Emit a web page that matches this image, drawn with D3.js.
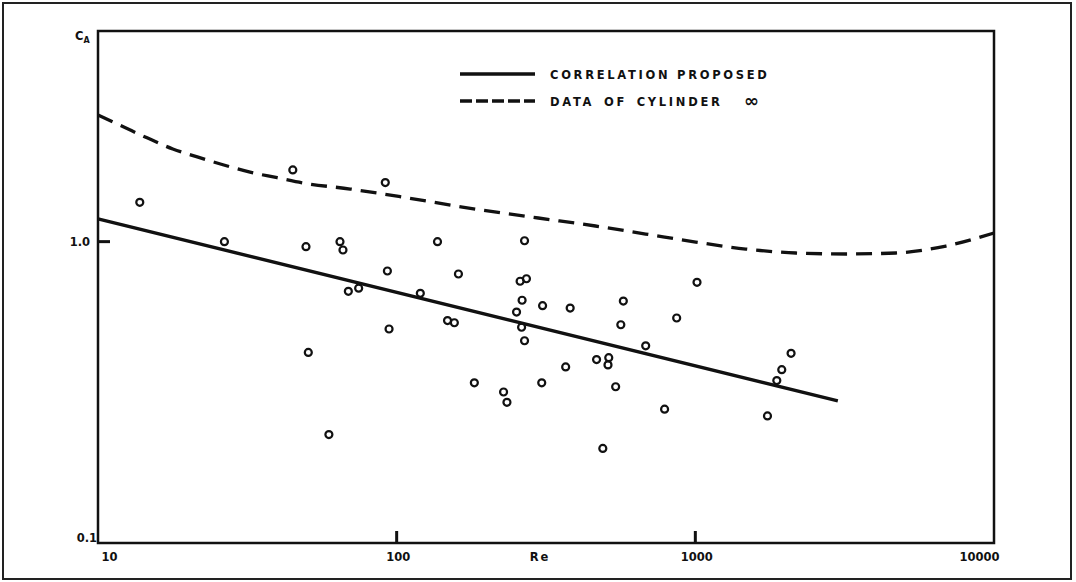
<!DOCTYPE html>
<html>
<head>
<meta charset="utf-8">
<script src="https://cdn.jsdelivr.net/npm/d3@7"></script>
<style>
  body { margin: 0; background: #fff; }
  svg text { font-family: "DejaVu Sans", sans-serif; font-weight: bold; fill: #111; }
</style>
</head>
<body>
<svg id="chart" width="1076" height="582"></svg>
<script>
// measured points: Reynolds number and C_A
const pointRe = [13.8, 44.9, 91.6, 26.5, 49.7, 64.6, 66.1, 93.1, 68.9, 74.6, 94.3, 50.6, 59.3,
  137, 268, 161, 259, 272, 1013, 120, 263, 308, 381, 574, 252, 148, 156, 262, 563, 866,
  268, 682, 467, 513, 510, 368, 182, 306, 228, 234, 541, 789, 490,
  2092, 1947, 1874, 1744]
const pointCA = [1.35, 1.73, 1.57, 1.0, 0.962, 1.0, 0.938, 0.799, 0.684, 0.701, 0.513, 0.429, 0.229,
  1.0, 1.007, 0.781, 0.739, 0.753, 0.733, 0.674, 0.639, 0.613, 0.602, 0.635, 0.584, 0.547, 0.538, 0.520, 0.530, 0.558,
  0.469, 0.451, 0.406, 0.412, 0.390, 0.384, 0.340, 0.340, 0.317, 0.293, 0.330, 0.278, 0.206,
  0.426, 0.376, 0.346, 0.264]

// correlation proposed (straight line on log-log)
const corrRe = [10, 3000]
const corrCA = [1.19, 0.296]

// data of cylinder (dashed curve)
const cylRe = [10, 12.2, 14.6, 17.8, 21.5, 26.2, 32.3, 39.8, 48.7, 69.9, 104.5, 166, 298, 463, 682, 1003, 1475, 2170, 3190, 4694, 6905, 10000]
const cylCA = [2.63, 2.40, 2.21, 2.03, 1.91, 1.80, 1.70, 1.63, 1.565, 1.495, 1.406, 1.302, 1.198, 1.127, 1.06, 0.997, 0.945, 0.917, 0.910, 0.917, 0.967, 1.068]

const xTicks = [10, 100, 1000, 10000]
const yTicks = [0.1, 1.0]

const svg = d3.select('#chart')
const plotLeft = 98, plotRight = 994, plotTop = 31, plotBottom = 543

const x = d3.scaleLog().domain([10, 10000]).range([plotLeft, plotRight])
const y = d3.scaleLog().domain([0.1, 5]).range([plotBottom, plotTop])

// outer frame of the figure
svg.append('rect')
  .attr('x', 3).attr('y', 3)
  .attr('width', 1068).attr('height', 576)
  .attr('fill', 'none').attr('stroke', '#222').attr('stroke-width', 2)

// plot box
svg.append('rect')
  .attr('x', plotLeft).attr('y', plotTop)
  .attr('width', plotRight - plotLeft).attr('height', plotBottom - plotTop)
  .attr('fill', 'none').attr('stroke', '#111').attr('stroke-width', 2.5)

// x axis labels
const xAxis = svg.append('g')
  .attr('transform', `translate(0,${plotBottom})`)
  .call(d3.axisBottom(x).tickValues(xTicks).tickSize(0).tickPadding(10).tickFormat(d3.format('d')))
xAxis.select('.domain').remove()
xAxis.selectAll('text').attr('font-size', 11.5)
  .attr('text-anchor', (d, i) => i === 0 ? 'start' : i === xTicks.length - 1 ? 'end' : 'middle')
  .attr('dx', (d, i) => i === 0 ? 3 : i === xTicks.length - 1 ? 5 : 1)

// inner tick marks on x
svg.selectAll('line.xtick')
  .data(xTicks.slice(1, -1))
  .enter()
  .append('line')
  .attr('class', 'xtick')
  .attr('x1', d => x(d)).attr('x2', d => x(d))
  .attr('y1', plotBottom).attr('y2', plotBottom - 12)
  .attr('stroke', '#111').attr('stroke-width', 3)

// y axis labels
const yAxis = svg.append('g')
  .attr('transform', `translate(${plotLeft},0)`)
  .call(d3.axisLeft(y).tickValues(yTicks).tickSize(0).tickPadding(8).tickFormat(d3.format('.1f')))
yAxis.select('.domain').remove()
yAxis.selectAll('text').attr('font-size', 11.5)
  .attr('dy', d => d === 0.1 ? '-0.1em' : '0.35em')
  .attr('x', d => d === 0.1 ? -1 : -8)

// inner tick mark on y
svg.selectAll('line.ytick')
  .data(yTicks.slice(1))
  .enter()
  .append('line')
  .attr('class', 'ytick')
  .attr('x1', plotLeft).attr('x2', plotLeft + 12)
  .attr('y1', d => y(d)).attr('y2', d => y(d))
  .attr('stroke', '#111').attr('stroke-width', 3)

// axis titles
const ca = svg.append('text').attr('x', 75).attr('y', 40).attr('font-size', 11.5)
ca.append('tspan').text('C')
ca.append('tspan').attr('font-size', 8).attr('dy', 3).text('A')

svg.append('text').attr('x', 540).attr('y', 561)
  .attr('text-anchor', 'middle').attr('font-size', 11.5).attr('letter-spacing', 2)
  .text('Re')

// cylinder curve
svg.append('path')
  .datum(d3.zip(cylRe, cylCA))
  .attr('d', d3.line().x(d => x(d[0])).y(d => y(d[1])).curve(d3.curveMonotoneX))
  .attr('fill', 'none').attr('stroke', '#111').attr('stroke-width', 3.3)
  .attr('stroke-dasharray', '16,9')

// correlation line
svg.append('path')
  .datum(d3.zip(corrRe, corrCA))
  .attr('d', d3.line().x(d => x(d[0])).y(d => y(d[1])))
  .attr('fill', 'none').attr('stroke', '#111').attr('stroke-width', 3.4)

// data points
svg.selectAll('circle.pt')
  .data(d3.zip(pointRe, pointCA))
  .enter()
  .append('circle')
  .attr('class', 'pt')
  .attr('cx', d => x(d[0]))
  .attr('cy', d => y(d[1]))
  .attr('r', 3.5)
  .attr('fill', 'none')
  .attr('stroke', '#111')
  .attr('stroke-width', 2.2)

// legend
const legend = svg.append('g')
legend.append('line')
  .attr('x1', 460).attr('x2', 535).attr('y1', 74).attr('y2', 74)
  .attr('stroke', '#111').attr('stroke-width', 3.4)
legend.append('line')
  .attr('x1', 460).attr('x2', 535).attr('y1', 101).attr('y2', 101)
  .attr('stroke', '#111').attr('stroke-width', 3.4).attr('stroke-dasharray', '12,4')
legend.append('text').attr('x', 550).attr('y', 79)
  .attr('font-size', 11.5).attr('letter-spacing', 2.7)
  .text('CORRELATION PROPOSED')
legend.append('text').attr('x', 550).attr('y', 106)
  .attr('font-size', 11.5).attr('letter-spacing', 2.7).attr('word-spacing', 3)
  .text('DATA OF CYLINDER')
legend.append('text').attr('x', 744).attr('y', 107)
  .attr('font-size', 18)
  .text('∞')
</script>
</body>
</html>
